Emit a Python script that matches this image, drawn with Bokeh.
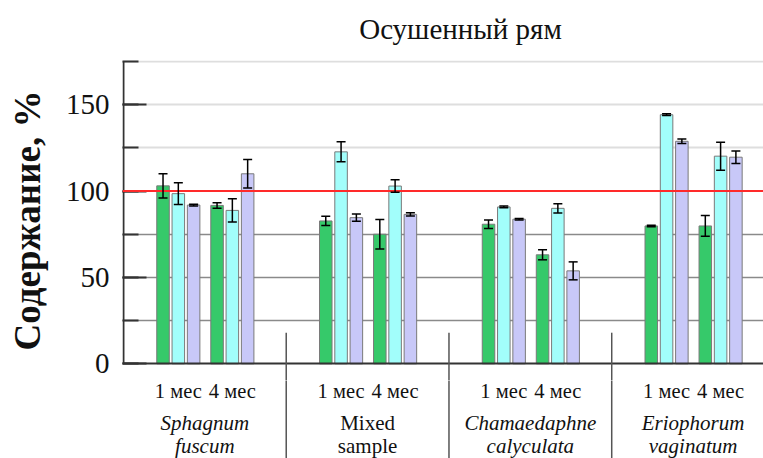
from bokeh.plotting import figure
from bokeh.layouts import column
from bokeh.models import (Range1d, SingleIntervalTicker, Span, Whisker,
                          TeeHead, ColumnDataSource)
from bokeh.core.properties import value
from bokeh.embed import file_html
from bokeh.resources import INLINE

# ---------------- data ----------------
title_text = "Осушенный рям"
y_label = "Содержание, %"
species_line1 = ["Sphagnum", "Mixed", "Chamaedaphne", "Eriophorum"]
species_line2 = ["fuscum", "sample", "calyculata", "vaginatum"]
species_italic = [True, False, True, True]
times = ["1 мес", "4 мес"]
reference_level = 100
y_max = 175

# values ordered: species0 1мес, species0 4мес, species1 1мес, ...
green_vals = [103.0, 91.7, 82.7, 75.0, 80.8, 63.1, 79.8, 79.8]
green_err = [7.0, 1.6, 2.7, 8.6, 2.5, 2.9, 0.4, 6.0]
cyan_vals = [98.5, 88.8, 122.7, 102.9, 90.8, 90.0, 144.2, 120.2]
cyan_err = [6.3, 6.7, 5.8, 3.6, 0.5, 2.7, 0.5, 8.1]
lav_vals = [91.9, 110.0, 84.6, 86.5, 83.7, 53.8, 128.8, 119.6]
lav_err = [0.5, 8.2, 2.1, 1.0, 0.4, 5.2, 1.3, 3.6]

series_vals = [green_vals, cyan_vals, lav_vals]
series_err = [green_err, cyan_err, lav_err]
series_colors = ["#36C96A", "#A2FEFB", "#C8C8F8"]

# ---------------- layout constants ----------------
time_offsets = [0.337, 0.669]
bar_offsets = [-0.094, 0.0, 0.094]
bar_width = 0.077
SERIF = "Liberation Serif"
n_groups = len(species_line1)
x_range = Range1d(-0.006, 3.9326)
sep_pos = [float(g) for g in range(1, n_groups)]
AXIS_COLOR = "#333333"
SEP_COLOR = "#555555"
TEXT_COLOR = "#111111"
W = 763
LEFT = 122
TITLE_H = 60
MAIN_H = 320
STRIP_H = 78
Y_LO, Y_HI = -9.67, 175.58


def bare(fig):
    fig.outline_line_color = None
    fig.xgrid.visible = False
    fig.ygrid.visible = False
    fig.xaxis.visible = False
    fig.yaxis.visible = False


# ================= title strip (pixel coordinates) =================
t = figure(width=W, height=TITLE_H, output_backend="svg", toolbar_location=None,
           x_range=Range1d(LEFT, W), y_range=Range1d(-TITLE_H, 0),
           min_border_left=LEFT, min_border_right=0, min_border_top=0, min_border_bottom=0)
bare(t)
t.text(x=[460], y=[-28], text=[title_text], text_align="center", text_baseline="middle",
       text_font=value(SERIF), text_font_size="29px", text_color=TEXT_COLOR)

# ================= main chart =================
p = figure(width=W, height=MAIN_H, output_backend="svg", toolbar_location=None,
           x_range=x_range, y_range=Range1d(Y_LO, Y_HI),
           min_border_left=LEFT, min_border_right=0, min_border_top=0,
           min_border_bottom=0)
p.outline_line_color = None
p.xgrid.visible = False
p.ygrid.visible = False
p.xaxis.visible = False

# grid lines
p.hspan(y=[25, 50, 75], line_color="#8a8a8a", line_width=1.5, level="underlay")
p.hspan(y=[125, 150, 175], line_color="#dedede", line_width=2, level="underlay")

# bars + error bars
for s in range(3):
    xs, tops, up, lo = [], [], [], []
    for g in range(n_groups):
        for tt_i in range(len(times)):
            k = g * len(times) + tt_i
            xs.append(g + time_offsets[tt_i] + bar_offsets[s])
            tops.append(series_vals[s][k])
            up.append(series_vals[s][k] + series_err[s][k])
            lo.append(series_vals[s][k] - series_err[s][k])
    src = ColumnDataSource(dict(x=xs, top=tops, upper=up, lower=lo))
    p.vbar(x="x", top="top", width=bar_width, source=src,
           fill_color=series_colors[s], line_color="#7a7a7a", line_width=1)
    w = Whisker(base="x", upper="upper", lower="lower", source=src,
                line_color="black", line_width=1.5, level="overlay",
                upper_head=TeeHead(size=9, line_color="black", line_width=1.5),
                lower_head=TeeHead(size=9, line_color="black", line_width=1.5))
    p.add_layout(w)

# x axis line at 0, y axis line from 0 to top, separators
p.hspan(y=[0], line_color=AXIS_COLOR, line_width=2)
p.segment(x0=[0], y0=[0], x1=[0], y1=[y_max], line_color=AXIS_COLOR, line_width=2)
p.segment(x0=sep_pos, y0=[Y_LO] * len(sep_pos), x1=sep_pos, y1=[18] * len(sep_pos),
          line_color=SEP_COLOR, line_width=1.5)

p.add_layout(Span(location=reference_level, dimension="width",
                  line_color="#FF2A2A", line_width=2))

# y axis
ya = p.yaxis[0]
ya.ticker = SingleIntervalTicker(interval=50, num_minor_ticks=2)
ya.major_tick_in = 24
ya.major_tick_out = 0
ya.minor_tick_in = 16
ya.minor_tick_out = 0
ya.axis_line_color = None
ya.major_tick_line_color = AXIS_COLOR
ya.major_tick_line_width = 2
ya.minor_tick_line_color = AXIS_COLOR
ya.minor_tick_line_width = 2
ya.major_label_text_font = SERIF
ya.major_label_text_font_size = "29px"
ya.major_label_text_color = TEXT_COLOR
ya.major_label_standoff = 13
ya.axis_label = y_label
ya.axis_label_text_font = SERIF
ya.axis_label_text_font_size = "37px"
ya.axis_label_text_font_style = "bold"
ya.axis_label_text_color = TEXT_COLOR
ya.axis_label_standoff = 15

# ================= category labels strip =================
# strip y coordinate = -(pixels below the x axis line)
strip_top = 16.7
q = figure(width=W, height=STRIP_H, output_backend="svg", toolbar_location=None,
           x_range=x_range, y_range=Range1d(-(strip_top + STRIP_H), -strip_top),
           min_border_left=LEFT, min_border_right=0, min_border_top=0,
           min_border_bottom=0)
bare(q)

q.segment(x0=sep_pos, y0=[0] * len(sep_pos), x1=sep_pos,
          y1=[-(strip_top + STRIP_H)] * len(sep_pos),
          line_color=SEP_COLOR, line_width=1.5)

# time labels
tx, tt = [], []
for g in range(n_groups):
    for tt_i in range(len(times)):
        tx.append(g + time_offsets[tt_i])
        tt.append(times[tt_i])
q.text(x=tx, y=[-27] * len(tx), text=tt, text_align="center", text_baseline="middle",
       text_font=value(SERIF), text_font_size="20.5px", text_color=TEXT_COLOR)

# species labels
for italic in (True, False):
    idx = [g for g in range(n_groups) if species_italic[g] == italic]
    style = "italic" if italic else "normal"
    for lines, yv in ((species_line1, -59), (species_line2, -82)):
        q.text(x=[g + 0.5 for g in idx], y=[yv] * len(idx), text=[lines[g] for g in idx],
               text_align="center", text_baseline="middle", text_font=value(SERIF),
               text_font_size="21px", text_font_style=style, text_color=TEXT_COLOR)

layout = column(t, p, q, spacing=0)
open("out.html", "w").write(file_html(layout, INLINE))
